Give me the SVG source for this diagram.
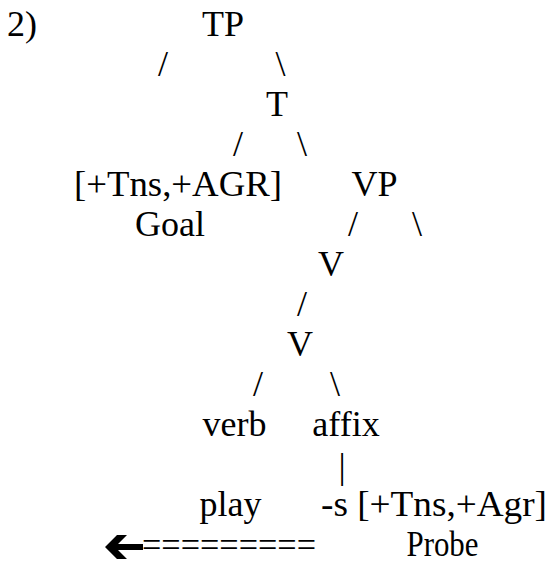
<svg xmlns="http://www.w3.org/2000/svg" width="550" height="565" viewBox="0 0 550 565">
  <style>
    text { font-family: "Liberation Serif", "Times New Roman", Tinos, "DejaVu Serif", serif; font-size: 36px; fill: #000; }
    .m { text-anchor: middle; }
  </style>
  <rect width="550" height="565" fill="#fff"/>

  <text id="label" x="7" y="36">2)</text>

  <!-- tree branches, typed as slash characters -->
  <g id="connectors">
    <text class="m" x="163" y="76">/</text>
    <text class="m" x="280.5" y="76">\</text>
    <text class="m" x="238" y="156">/</text>
    <text class="m" x="302" y="156">\</text>
    <text class="m" x="353" y="236">/</text>
    <text class="m" x="417" y="236">\</text>
    <text class="m" x="302" y="316">/</text>
    <text class="m" x="258" y="396">/</text>
    <text class="m" x="335" y="396">\</text>
    <text class="m" x="342" y="478">|</text>
  </g>

  <g id="node-tp"><text class="m" x="223" y="36">TP</text></g>
  <g id="node-t"><text class="m" x="277" y="116">T</text></g>
  <g id="node-goal">
    <text class="m" x="178" y="196" textLength="208" lengthAdjust="spacingAndGlyphs">[+Tns,+AGR]</text>
    <text class="m" x="170" y="236">Goal</text>
  </g>
  <g id="node-vp"><text class="m" x="374.5" y="196">VP</text></g>
  <g id="node-v1"><text class="m" x="331" y="276">V</text></g>
  <g id="node-v2"><text class="m" x="300" y="356">V</text></g>
  <g id="node-verb"><text class="m" x="234.5" y="436">verb</text></g>
  <g id="node-affix"><text class="m" x="346" y="436">affix</text></g>
  <g id="node-play"><text class="m" x="230.5" y="516">play</text></g>
  <g id="node-probe">
    <text x="321" y="516" textLength="226" lengthAdjust="spacingAndGlyphs">-s [+Tns,+Agr]</text>
    <text class="m" x="442.5" y="556" textLength="72" lengthAdjust="spacingAndGlyphs">Probe</text>
  </g>

  <!-- agreement arrow: bold head plus a run of equals signs -->
  <g id="arrow">
    <polygon points="105,547 117,535 127,535 118,544 143,544 143,550 118,550 127,559 117,559" fill="#000"/>
    <text x="142" y="557" textLength="174" lengthAdjust="spacingAndGlyphs">=========</text>
  </g>
</svg>
